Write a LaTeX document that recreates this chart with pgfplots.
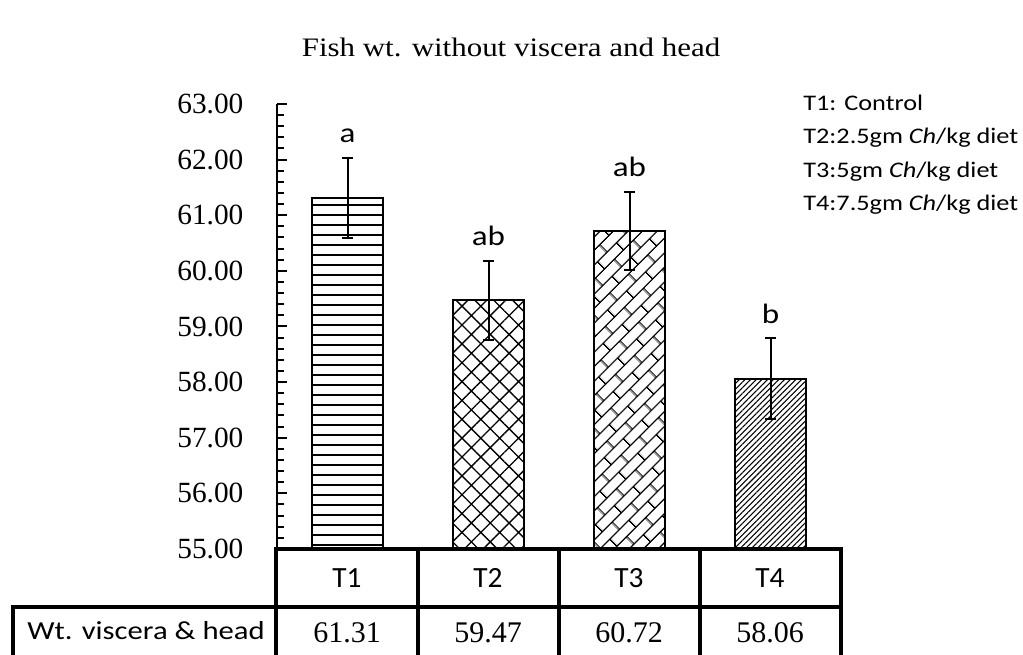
\documentclass[border=0pt]{standalone}
\usepackage{fontspec}
\setmainfont{Liberation Serif}
\newfontfamily\calib{Carlito}
\newfontfamily\calibw{Carlito}[FakeStretch=1.18]
\newfontfamily\timesw{Liberation Serif}[FakeStretch=1.16]
\usepackage{pgfplots}
\pgfplotsset{compat=1.18}
\usetikzlibrary{patterns,patterns.meta}

% diagonal brick pattern for T3
\tikzdeclarepattern{
  name=dbricks,
  type=uncolored,
  bounding box={(0,0) and (20pt,16pt)},
  tile size={(20pt,16pt)},
  tile transformation={rotate=45},
  code={
    \pgfsetlinewidth{1pt}
    \draw (-1pt,4pt)--(21pt,4pt) (-1pt,12pt)--(21pt,12pt)
          (5pt,4pt)--(5pt,12pt)
          (15pt,12pt)--(15pt,17pt) (15pt,-1pt)--(15pt,4pt);
  }
}

\pgfplotsset{
  errb/.style={error bars/.cd, y dir=both, y explicit,
    error bar style={line width=1.5pt},
    error mark options={rotate=90, mark size=4pt, line width=1.5pt}},
}

\begin{document}
\begin{tikzpicture}
\path[use as bounding box] (0,0) rectangle (767.25pt,491.25pt);
\begin{axis}[
  at={(207.75pt,79.5pt)}, anchor=south west,
  scale only axis, width=423pt, height=333.75pt,
  xmin=-0.5, xmax=3.5, ymin=55, ymax=63,
  axis x line=none, axis y line=left,
  y axis line style={-, line width=1.5pt},
  ytick distance=1, minor y tick num=4,
  tick align=inside,
  major tick length=7.5pt, minor tick length=5.5pt,
  every tick/.style={black, line width=1.5pt},
  yticklabel style={font=\fontsize{22}{26}\selectfont, inner sep=0pt, xshift=-25pt},
  y tick label style={/pgf/number format/.cd, fixed, fixed zerofill, precision=2, assume math mode=true},
  bar shift=0pt,
]
\addplot[ybar, bar width=0.5, bar shift=0pt, draw=black, line width=1.5pt,
  pattern={Lines[angle=0, distance=7.5pt, line width=1.3pt]}, errb]
  coordinates {(0,61.31) +- (0,0.72)};
\addplot[ybar, bar width=0.5, bar shift=0pt, draw=black, line width=1.5pt,
  pattern={Hatch[angle=45, distance=10pt, line width=1pt]}, errb]
  coordinates {(1,59.47) +- (0,0.71)};
\addplot[ybar, bar width=0.5, bar shift=0pt, draw=black, line width=1.5pt,
  pattern=dbricks, errb]
  coordinates {(2,60.72) +- (0,0.70)};
\addplot[ybar, bar width=0.5, bar shift=0pt, draw=black, line width=1.5pt,
  pattern={Lines[angle=45, distance=3pt, line width=0.8pt]}, errb]
  coordinates {(3,58.06) +- (0,0.73)};
% significance letters above the error bars
\addplot[draw=none, mark=none, nodes near coords, point meta=explicit symbolic,
  every node near coord/.style={anchor=south, inner sep=0pt, yshift=11pt,
    font=\calibw\fontsize{21}{25}\selectfont}]
  coordinates {(0,62.03)[a] (1,60.18)[ab] (2,61.42)[ab] (3,58.79)[b]};
\end{axis}

\begin{scope}[x=0.75pt, y=-0.75pt, shift={(0,491.25pt)}]
  \node[anchor=base, font=\timesw\fontsize{20}{24}\selectfont] at (511,57)
    {Fish wt. without viscera and head};
  \begin{scope}[font=\calibw\fontsize{16.7}{20}\selectfont]
    \node[anchor=base west, inner sep=0pt] at (803,111) {T1: Control};
    \node[anchor=base west, inner sep=0pt] at (803,144) {T2:2.5gm \textit{Ch}/kg diet};
    \node[anchor=base west, inner sep=0pt] at (803,178) {T3:5gm \textit{Ch}/kg diet};
    \node[anchor=base west, inner sep=0pt] at (803,211) {T4:7.5gm \textit{Ch}/kg diet};
  \end{scope}
  % data table under the plot
  \begin{scope}[line width=2.4pt, line cap=rect]
    \draw (276,549) -- (841,549);
    \draw (13,607) -- (841,607);
    \draw (13,607) -- (13,660);
    \foreach \xx in {276,418,559,700,841} \draw (\xx,549) -- (\xx,660);
  \end{scope}
  \begin{scope}[font=\calib\fontsize{22}{26}\selectfont]
    \node[anchor=base] at (347,588) {T1};
    \node[anchor=base] at (488,588) {T2};
    \node[anchor=base] at (629,588) {T3};
    \node[anchor=base] at (770,588) {T4};
  \end{scope}
  \node[anchor=base west, inner sep=0pt, font=\calibw\fontsize{19.5}{23}\selectfont] at (27,640) {Wt. viscera \& head};
  \begin{scope}[font=\fontsize{22.5}{27}\selectfont]
    \node[anchor=base] at (347,643) {61.31};
    \node[anchor=base] at (488,643) {59.47};
    \node[anchor=base] at (629,643) {60.72};
    \node[anchor=base] at (770,643) {58.06};
  \end{scope}
\end{scope}
\end{tikzpicture}
\end{document}
